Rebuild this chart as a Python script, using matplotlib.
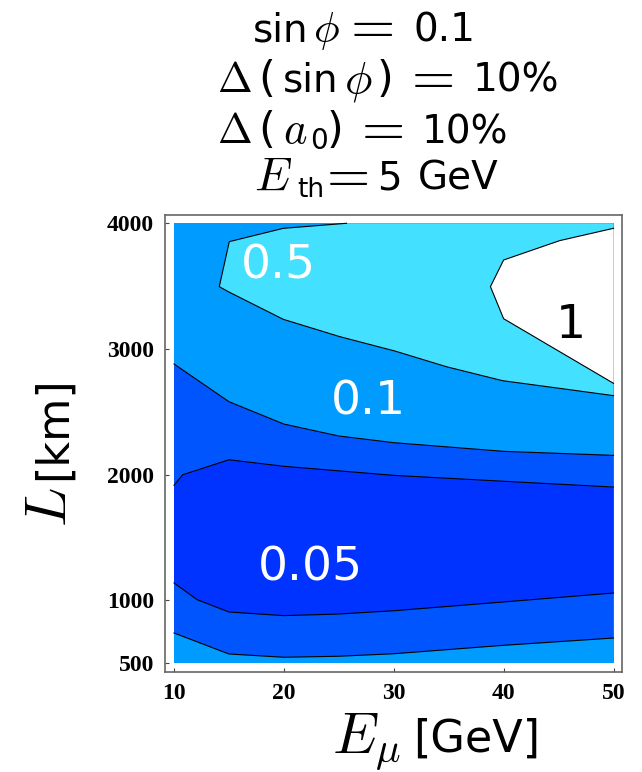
import matplotlib
matplotlib.use("Agg")
import matplotlib.pyplot as plt

plt.rcParams['font.family'] = ['DejaVu Sans']
plt.rcParams['mathtext.fontset'] = 'cm'

# axis ranges of the computed grid
E_MIN, E_MAX = 10, 50
L_MIN, L_MAX = 500, 4000

# contour lines (E_mu [GeV], L [km])
c05_E = [25.7, 19.95, 15.03, 14.12, 14.94, 19.95, 25.1, 30.1, 34.8, 39.9, 45.1, 50.0]
c05_L = [4000, 3960, 3854, 3496, 3456, 3236, 3098, 2984, 2859, 2748, 2687, 2629]

c1_E = [50.0, 45.1, 40.0, 38.8, 40.0, 50.0]
c1_L = [3960, 3862, 3708, 3496, 3241, 2727]

c01_E = [10, 15, 20, 25, 30, 40, 50]
c01_L = [2881, 2581, 2403, 2308, 2255, 2186, 2154]

c005u_E = [10, 10.8, 15, 20, 30, 40, 50]
c005u_L = [1916, 2000, 2119, 2067, 1995, 1948, 1902]

c005l_E = [10, 12.1, 15, 20, 25, 30, 40, 50]
c005l_L = [1139, 1006, 908, 879, 892, 918, 988, 1059]

c01l_E = [10, 15, 20, 25, 30, 40, 50]
c01l_L = [741, 574, 548, 556, 576, 643, 701]

region_labels = ["0.5", "0.1", "1", "0.05"]
region_label_E = [19.46, 27.74, 46.12, 22.4]
region_label_L = [3660, 2578, 3185, 1260]
region_label_colors = ["white", "white", "black", "white"]

xticks = [10, 20, 30, 40, 50]
yticks = [500, 1000, 2000, 3000, 4000]

col_01 = '#009BFF'
col_band = '#0055FF'
col_005 = '#0033FF'
col_05 = '#43E0FF'
col_1 = '#FFFFFF'

W, H = 642, 772
fig = plt.figure(figsize=(W / 100, H / 100), dpi=100)
ax = fig.add_axes([0.2570, 0.12915, 0.7123, 0.59275])

ax.fill([E_MIN, E_MAX, E_MAX, E_MIN], [L_MIN, L_MIN, L_MAX, L_MAX], color=col_01, lw=0)
ax.fill(c01_E + c01l_E[::-1], c01_L + c01l_L[::-1], color=col_band, lw=0)
ax.fill(c005u_E + c005l_E[::-1], c005u_L + c005l_L[::-1], color=col_005, lw=0)
ax.fill(c05_E + [E_MAX], c05_L + [L_MAX], color=col_05, lw=0)
ax.fill(c1_E, c1_L, color=col_1, lw=0)

for xs, ys in [(c05_E, c05_L), (c1_E, c1_L), (c01_E, c01_L),
               (c005u_E, c005u_L), (c005l_E, c005l_L), (c01l_E, c01l_L)]:
    ax.plot(xs, ys, color='black', lw=0.8)

for t, ex, ly, c in zip(region_labels, region_label_E, region_label_L, region_label_colors):
    ax.text(ex, ly, t, color=c, fontsize=34, ha='center', va='center')

ax.set_xlim(9.18, 50.80)
ax.set_ylim(428.4, 4068.4)
ax.set_xticks(xticks)
ax.set_yticks(yticks)
ax.set_xticklabels([str(v) for v in xticks])
ax.set_yticklabels([str(v) for v in yticks])
for lab in ax.get_xticklabels() + ax.get_yticklabels():
    lab.set_fontfamily('Liberation Serif')
    lab.set_fontweight('bold')
    lab.set_fontsize(17)
ax.tick_params(direction='in', length=3, width=0.8, color='#444444', pad=8)
for s in ax.spines.values():
    s.set_color('#666666')
    s.set_linewidth(1.2)


def piece(t, x, y, size, rot=0):
    fig.text(x / W, 1 - y / H, t, fontsize=size, ha='left', va='baseline',
             rotation=rot, rotation_mode='anchor')


def eq(x, y, size):
    # relation padding mostly cancelled by \! ; compensate the rest + glyph bearing
    piece(r"$\!=\!$", x - 0.085 * size * 100 / 72, y, size)


# header lines: (text, left x px, baseline y px, size)
header = [
    ("sin", 253, 42, 28), (r"$\phi$", 313, 42, 31), ("0.1", 413, 42, 28),
    (r"$\Delta$", 217, 92, 30), ("(", 258, 92, 31), ("sin", 283, 92, 28), (r"$\phi$", 344, 92, 33),
    (")", 377, 92, 31), ("10%", 473, 92, 28),
    (r"$\Delta$", 217, 143, 30), ("(", 258, 143, 31), (r"$a$", 283, 143, 32), ("0", 310, 149, 20),
    (")", 327, 143, 31), ("10%", 422, 143, 28),
    (r"$E$", 254, 190, 34), ("th", 297, 197, 19), ("5", 377, 190, 28),
    ("GeV", 418, 190, 28),
]
for t, x, y, s in header:
    piece(t, x, y, s)
eq(354, 42, 41)
eq(415, 92, 40)
eq(365, 143, 40)
eq(330, 190, 40)

# axis labels
piece(r"$E_\mu$", 332, 752, 42)
piece("[GeV]", 413, 752, 32)
piece(r"$L$", 66, 527, 42, rot=90)
piece("[km]", 66, 480, 32, rot=90)

fig.savefig('out.png', dpi=100)
